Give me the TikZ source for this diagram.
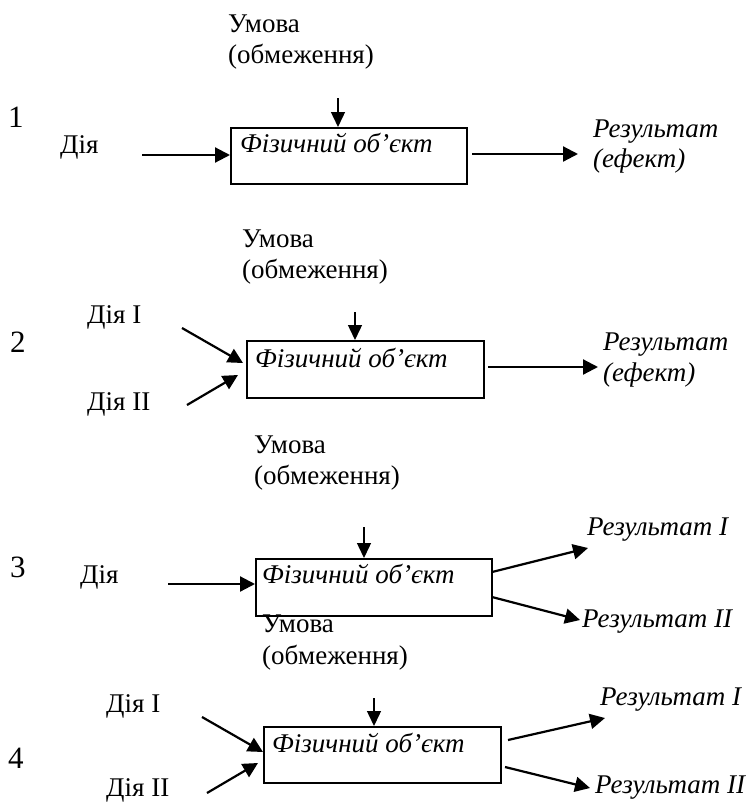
\documentclass[tikz,border=0pt]{standalone}
\usepackage{fontspec}
\setmainfont{Liberation Serif}
\usetikzlibrary{arrows.meta,positioning}

\tikzset{
  lbl/.style={font=\fontsize{27}{32}\selectfont, inner sep=0pt, anchor=base west},
  res/.style={lbl, font=\fontsize{27}{32}\selectfont\itshape},
  num/.style={lbl, font=\fontsize{31}{36}\selectfont},
  objbox/.style={draw, line width=1.5pt, anchor=north west, inner sep=0pt},
  flow/.style={->, line width=2.2pt},
  cond/.style={->, line width=1.4pt, >={Triangle[length=15pt,width=14pt]}}
}

\begin{document}
\begin{tikzpicture}[x=1pt, y=-1pt, >={Triangle[length=15pt,width=15pt]}]

\useasboundingbox (0,0) rectangle (751,803);

% ---------- Scheme 1 ----------
\node[num] (num1) at (8,127) {1};
\node[lbl] (cond1a) at (228,32) {Умова};
\node[lbl] (cond1b) at (228,63) {(обмеження)};
\node[lbl] (act1) at (60,153) {Дія};
\node[objbox, minimum width=236pt, minimum height=56pt] (obj1) at (230,127) {};
\node[res] (t1) at (240,152) {Фізичний об’єкт};
\node[res] (res1a) at (593,137) {Результат};
\node[res] (res1b) at (593,167) {(ефект)};

\coordinate (c1) at (338,98);
\coordinate (in1) at (142,155);
\coordinate (out1s) at (472,154);
\coordinate (out1e) at (578,154);

\draw[cond] (c1) -- (c1 |- obj1.north);
\draw[flow] (in1) -- (obj1.west |- in1);
\draw[flow] (out1s) -- (out1e);

% ---------- Scheme 2 ----------
\node[num] (num2) at (10,352) {2};
\node[lbl] (cond2a) at (242,247) {Умова};
\node[lbl] (cond2b) at (242,278) {(обмеження)};
\node[lbl] (act2a) at (87,323) {Дія I};
\node[lbl] (act2b) at (87,410) {Дія II};
\node[objbox, minimum width=237pt, minimum height=57pt] (obj2) at (246,340) {};
\node[res] (t2) at (255,367) {Фізичний об’єкт};
\node[res] (res2a) at (603,350) {Результат};
\node[res] (res2b) at (603,381) {(ефект)};

\coordinate (c2) at (355,312);
\coordinate (in2a) at (182,328);
\coordinate (in2ae) at (243,363);
\coordinate (in2b) at (187,405);
\coordinate (in2be) at (238,375);
\coordinate (out2s) at (488,367);
\coordinate (out2e) at (598,367);

\draw[cond] (c2) -- (c2 |- obj2.north);
\draw[flow] (in2a) -- (in2ae);
\draw[flow] (in2b) -- (in2be);
\draw[flow] (out2s) -- (out2e);

% ---------- Scheme 3 ----------
\node[num] (num3) at (10,577) {3};
\node[lbl] (cond3a) at (254,453) {Умова};
\node[lbl] (cond3b) at (254,484) {(обмеження)};
\node[lbl] (act3) at (80,583) {Дія};
\node[objbox, minimum width=236pt, minimum height=57pt] (obj3) at (255,558) {};
\node[res] (t3) at (262,583) {Фізичний об’єкт};
\node[res] (res3a) at (587,535) {Результат I};
\node[res] (res3b) at (582,627) {Результат II};

\coordinate (c3) at (364,527);
\coordinate (in3) at (168,584);
\coordinate (out3as) at (492,572);
\coordinate (out3ae) at (588,548);
\coordinate (out3bs) at (492,597);
\coordinate (out3be) at (580,620);

\draw[cond] (c3) -- (c3 |- obj3.north);
\draw[flow] (in3) -- (obj3.west |- in3);
\draw[flow] (out3as) -- (out3ae);
\draw[flow] (out3bs) -- (out3be);

% ---------- Scheme 4 ----------
\node[num] (num4) at (8,768) {4};
\node[lbl] (cond4a) at (262,632) {Умова};
\node[lbl] (cond4b) at (262,664) {(обмеження)};
\node[lbl] (act4a) at (106,712) {Дія I};
\node[lbl] (act4b) at (106,796) {Дія II};
\node[objbox, minimum width=237pt, minimum height=56pt] (obj4) at (263,726) {};
\node[res] (t4) at (272,752) {Фізичний об’єкт};
\node[res] (res4a) at (600,705) {Результат I};
\node[res] (res4b) at (595,793) {Результат II};

\coordinate (c4) at (374,698);
\coordinate (in4a) at (202,717);
\coordinate (in4ae) at (263,752);
\coordinate (in4b) at (207,793);
\coordinate (in4be) at (258,763);
\coordinate (out4as) at (508,740);
\coordinate (out4ae) at (605,718);
\coordinate (out4bs) at (505,767);
\coordinate (out4be) at (590,788);

\draw[cond] (c4) -- (c4 |- obj4.north);
\draw[flow] (in4a) -- (in4ae);
\draw[flow] (in4b) -- (in4be);
\draw[flow] (out4as) -- (out4ae);
\draw[flow] (out4bs) -- (out4be);

\end{tikzpicture}
\end{document}
